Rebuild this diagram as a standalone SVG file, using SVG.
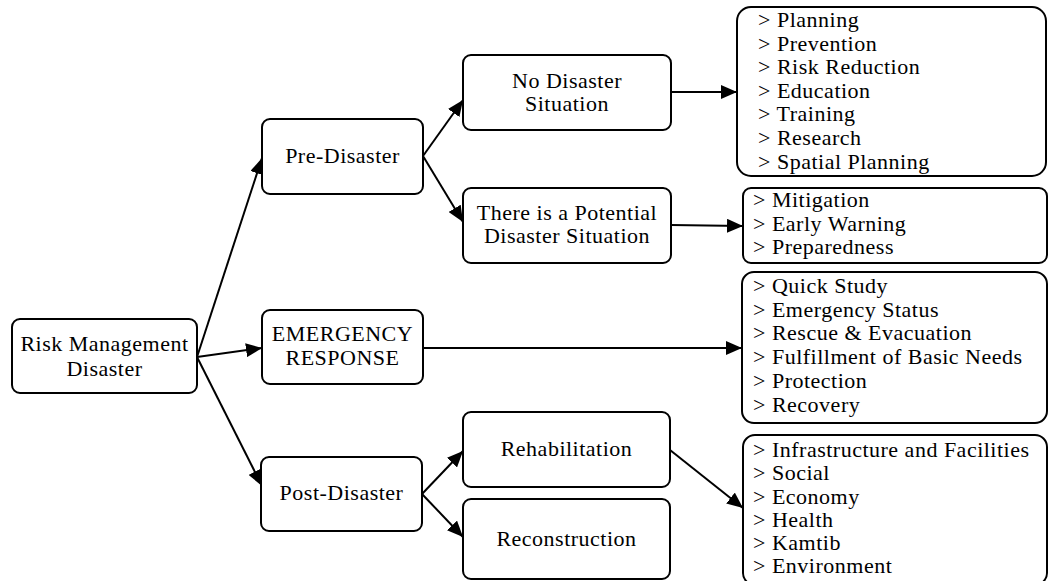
<svg xmlns="http://www.w3.org/2000/svg" width="1048" height="581" viewBox="0 0 1048 581">
<style>
.box{fill:#fff;stroke:#000;stroke-width:2}
.c{text-anchor:middle}
.ln{stroke:#000;stroke-width:2;fill:none;marker-end:url(#ah)}
</style>
<defs>
<marker id="ah" markerUnits="userSpaceOnUse" markerWidth="16" markerHeight="14" refX="16" refY="7" orient="auto">
<path d="M0,0 L16,7 L0,14 z" fill="#000"/>
</marker>
</defs>
<rect width="1048" height="581" fill="#fff"/>
<g id="connectors">
<line class="ln" x1="197" y1="357" x2="262" y2="158"/>
<line class="ln" x1="197" y1="357" x2="262" y2="348"/>
<line class="ln" x1="197" y1="357" x2="262" y2="486"/>
<line class="ln" x1="423" y1="156" x2="463" y2="100"/>
<line class="ln" x1="423" y1="156" x2="463" y2="222"/>
<line class="ln" x1="671" y1="92" x2="737" y2="92"/>
<line class="ln" x1="671" y1="225" x2="743" y2="226"/>
<line class="ln" x1="423" y1="348" x2="742" y2="348"/>
<line class="ln" x1="422" y1="494" x2="463" y2="451"/>
<line class="ln" x1="422" y1="494" x2="463" y2="537"/>
<line class="ln" x1="670" y1="450" x2="743" y2="508"/>
</g>
<g font-family="'Liberation Serif', 'DejaVu Serif', serif" font-size="22" letter-spacing="0.5" fill="#000">
<g id="risk">
<rect class="box" x="12" y="319" width="185" height="74" rx="8"/>
<text class="c" x="104.5" y="351">Risk Management</text>
<text class="c" x="104.5" y="376">Disaster</text>
</g>
<g id="pre">
<rect class="box" x="262" y="119" width="161" height="75" rx="8"/>
<text class="c" x="342.5" y="163">Pre-Disaster</text>
</g>
<g id="emergency">
<rect class="box" x="262" y="310" width="161" height="74" rx="8"/>
<text class="c" x="342.5" y="341">EMERGENCY</text>
<text class="c" x="342.5" y="365">RESPONSE</text>
</g>
<g id="post">
<rect class="box" x="261" y="457" width="161" height="74" rx="8"/>
<text class="c" x="341.5" y="500">Post-Disaster</text>
</g>
<g id="nodisaster">
<rect class="box" x="463" y="55" width="208" height="75" rx="8"/>
<text class="c" x="567" y="88">No Disaster</text>
<text class="c" x="567" y="111">Situation</text>
</g>
<g id="potential">
<rect class="box" x="463" y="188" width="208" height="75" rx="8"/>
<text class="c" x="567" y="220">There is a Potential</text>
<text class="c" x="567" y="243">Disaster Situation</text>
</g>
<g id="rehab">
<rect class="box" x="463" y="412" width="207" height="75" rx="8"/>
<text class="c" x="566.5" y="456">Rehabilitation</text>
</g>
<g id="recon">
<rect class="box" x="463" y="499" width="207" height="80" rx="8"/>
<text class="c" x="566.5" y="546">Reconstruction</text>
</g>
<g id="list1">
<rect class="box" x="737" y="7" width="309" height="169" rx="14"/>
<text x="758" y="27">&gt; Planning</text>
<text x="758" y="50.6">&gt; Prevention</text>
<text x="758" y="74.2">&gt; Risk Reduction</text>
<text x="758" y="97.8">&gt; Education</text>
<text x="758" y="121.4">&gt; Training</text>
<text x="758" y="145">&gt; Research</text>
<text x="758" y="168.6">&gt; Spatial Planning</text>
</g>
<g id="list2">
<rect class="box" x="743" y="188" width="304" height="75" rx="8"/>
<text x="753" y="207">&gt; Mitigation</text>
<text x="753" y="231">&gt; Early Warning</text>
<text x="753" y="254">&gt; Preparedness</text>
</g>
<g id="list3">
<rect class="box" x="742" y="272" width="305" height="151" rx="12"/>
<text x="753" y="293">&gt; Quick Study</text>
<text x="753" y="317">&gt; Emergency Status</text>
<text x="753" y="340">&gt; Rescue &amp; Evacuation</text>
<text x="753" y="364">&gt; Fulfillment of Basic Needs</text>
<text x="753" y="388">&gt; Protection</text>
<text x="753" y="412">&gt; Recovery</text>
</g>
<g id="list4">
<rect class="box" x="743" y="435" width="304" height="150" rx="12"/>
<text x="753" y="457">&gt; Infrastructure and Facilities</text>
<text x="753" y="480">&gt; Social</text>
<text x="753" y="503.5">&gt; Economy</text>
<text x="753" y="526.5">&gt; Health</text>
<text x="753" y="550">&gt; Kamtib</text>
<text x="753" y="573">&gt; Environment</text>
</g>
</g>
</svg>
